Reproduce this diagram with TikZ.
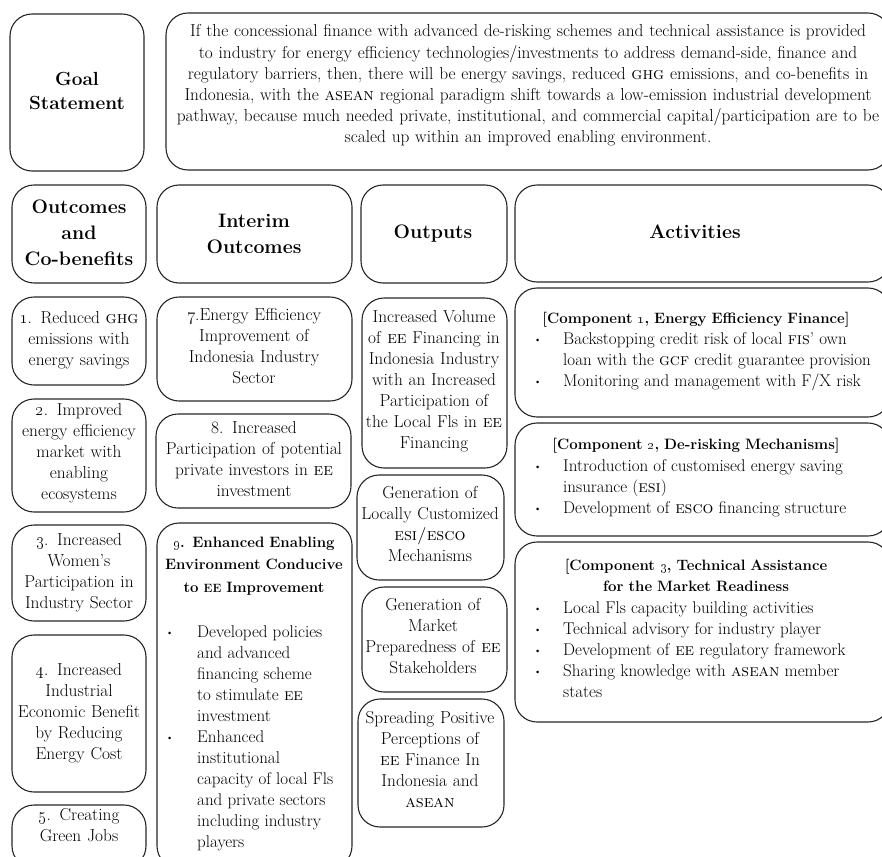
\documentclass[tikz,border=0pt]{standalone}
\newcommand\blt{\raisebox{1.5pt}{\fontsize{9}{9}\selectfont\textbullet}}
\begin{document}
\begin{tikzpicture}[x=1pt,y=-1pt,
  box/.style={draw=black!85, line width=1.1pt, rounded corners=22pt, inner sep=0pt},
  body/.style={font=\fontsize{17.3}{21}\selectfont, align=center, inner sep=0pt, text width=260pt, anchor=base},
  stmt/.style={font=\fontsize{17.3}{21.2}\selectfont, align=center, inner sep=0pt, text width=800pt, anchor=base},
  head/.style={font=\fontsize{19.5}{26}\selectfont\bfseries, align=center, inner sep=0pt, text width=260pt, anchor=base},
  list/.style={font=\fontsize{17}{21}\selectfont, inner sep=0pt, anchor=base west},
  btitle/.style={font=\fontsize{15}{21.5}\selectfont\bfseries, align=center, inner sep=0pt, text width=360pt, anchor=base}
]
\useasboundingbox (0,0) rectangle (882,856);
% boxes
\node[box, minimum width=134pt, minimum height=157pt] (goalbox) at (77,92.5) {};
\node[box, minimum width=724pt, minimum height=157pt] (stmtbox) at (528,91.5) {};
\node[box, minimum width=134pt, minimum height=98pt] (houtbox) at (79,234) {};
\node[box, minimum width=195pt, minimum height=98pt] (hintbox) at (254.5,234) {};
\node[box, minimum width=146pt, minimum height=98pt] (houtpbox) at (434,234) {};
\node[box, minimum width=375pt, minimum height=97pt] (hactbox) at (702.5,233.5) {};
\node[box, minimum width=134pt, minimum height=88pt] (c1box) at (79,341) {};
\node[box, minimum width=134pt, minimum height=113pt] (c2box) at (79,455.5) {};
\node[box, minimum width=134pt, minimum height=96pt] (c3box) at (79,573) {};
\node[box, minimum width=134pt, minimum height=157pt] (c4box) at (79,713.5) {};
\node[box, minimum width=134pt, minimum height=63pt] (c5box) at (79,836.5) {};
\node[box, minimum width=195pt, minimum height=104pt] (i7box) at (254.5,349) {};
\node[box, minimum width=195pt, minimum height=94pt] (i8box) at (253.5,461) {};
\node[box, minimum width=195pt, minimum height=345pt] (i9box) at (254.5,695.5) {};
\node[box, minimum width=145pt, minimum height=170pt] (o1box) at (434.5,383) {};
\node[box, minimum width=147pt, minimum height=105pt] (o2box) at (430.5,527.5) {};
\node[box, minimum width=145pt, minimum height=105pt] (o3box) at (434.5,639.5) {};
\node[box, minimum width=146pt, minimum height=128pt] (o4box) at (431,763) {};
\node[box, minimum width=375pt, minimum height=129pt] (a1box) at (702.5,352.5) {};
\node[box, minimum width=375pt, minimum height=113pt] (a2box) at (702.5,479.5) {};
\node[box, minimum width=375pt, minimum height=180pt] (a3box) at (702.5,632) {};
% headers
\node[head, font=\fontsize{19}{24}\selectfont\bfseries] (goal) at (77,86) {Goal\\Statement};
\node[stmt] (stmt) at (528,37) {If the concessional finance with advanced de-risking schemes and technical assistance is provided\\
to industry for energy efficiency technologies/investments to address demand-side, finance and\\
regulatory barriers, then, there will be energy savings, reduced \textsc{ghg} emissions, and co-benefits in\\
Indonesia, with the \textsc{asean} regional paradigm shift towards a low-emission industrial development\\
pathway, because much needed private, institutional, and commercial capital/participation are to be\\
scaled up within an improved enabling environment.};
\node[head] (hout) at (79,213) {Outcomes\\and\\Co-benefits};
\node[head] (hint) at (254,227) {Interim\\Outcomes};
\node[head] (houtp) at (433,238) {Outputs};
\node[head] (hact) at (695,238) {Activities};
% column 1
\node[body] (c1) at (79,323) {\oldstylenums{1}. Reduced \textsc{ghg}\\emissions with\\energy savings};
\node[body] (c2) at (79,415) {\oldstylenums{2}. Improved\\energy efficiency\\market with\\enabling\\ecosystems};
\node[body] (c3) at (79,545) {\oldstylenums{3}. Increased\\Women's\\Participation in\\Industry Sector};
\node[body] (c4) at (79,675) {\oldstylenums{4}. Increased\\Industrial\\Economic Benefit\\by Reducing\\Energy Cost};
\node[body] (c5) at (79,820) {\oldstylenums{5}. Creating\\Green Jobs};
% column 2
\node[body] (i7) at (254,320) {\oldstylenums{7}.Energy Efficiency\\Improvement of\\Indonesia Industry\\Sector};
\node[body] (i8) at (254,433) {8. Increased\\Participation of potential\\private investors in \textsc{ee}\\investment};
\node[btitle, font=\fontsize{15}{22.5}\selectfont\bfseries] (i9t) at (254,547) {\oldstylenums{9}. Enhanced Enabling\\Environment Conducive\\to {\fontsize{12}{22.5}\selectfont EE} Improvement};
\node[list] (i9l) at (166,637) {\begin{tabular}[t]{@{}p{31pt}@{}l@{}}
\blt & Developed policies\\
 & and advanced\\
 & financing scheme\\
 & to stimulate \textsc{ee}\\
 & investment\\
\blt & Enhanced\\
 & institutional\\
 & capacity of local Fls\\
 & and private sectors\\
 & including industry\\
 & players
\end{tabular}};
% column 3
\node[body] (o1) at (434,322) {Increased Volume\\of \textsc{ee} Financing in\\Indonesia Industry\\with an Increased\\Participation of\\the Local Fls in \textsc{ee}\\Financing};
\node[body] (o2) at (430,498) {Generation of\\Locally Customized\\\textsc{esi/esco}\\Mechanisms};
\node[body] (o3) at (433,610) {Generation of\\Market\\Preparedness of \textsc{ee}\\Stakeholders};
\node[body] (o4) at (430,723) {Spreading Positive\\Perceptions of\\\textsc{ee} Finance In\\Indonesia and\\\textsc{asean}};
% column 4
\node[btitle] (a1t) at (696,323) {[Component \oldstylenums{1}, Energy Efficiency Finance]};
\node[list] (a1l) at (534,344) {\begin{tabular}[t]{@{}p{29pt}@{}l@{}}
\blt & Backstopping credit risk of local \textsc{fis}' own\\
 & loan with the \textsc{gcf} credit guarantee provision\\
\blt & Monitoring and management with F/X risk
\end{tabular}};
\node[btitle] (a2t) at (696,449) {[Component \oldstylenums{2}, De-risking Mechanisms]};
\node[list] (a2l) at (534,471) {\begin{tabular}[t]{@{}p{29pt}@{}l@{}}
\blt & Introduction of customised energy saving\\
 & insurance (\textsc{esi})\\
\blt & Development of \textsc{esco} financing structure
\end{tabular}};
\node[btitle] (a3t) at (696,570) {[Component \oldstylenums{3}, Technical Assistance\\for the Market Readiness};
\node[list] (a3l) at (534,613) {\begin{tabular}[t]{@{}p{29pt}@{}l@{}}
\blt & Local Fls capacity building activities\\
\blt & Technical advisory for industry player\\
\blt & Development of \textsc{ee} regulatory framework\\
\blt & Sharing knowledge with \textsc{asean} member\\
 & states
\end{tabular}};
\end{tikzpicture}
\end{document}
